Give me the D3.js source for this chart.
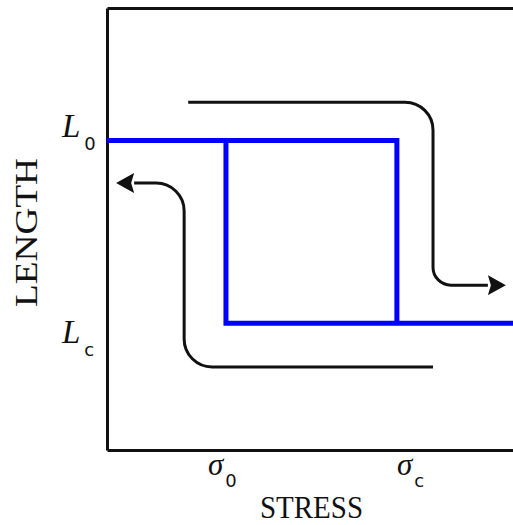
<!DOCTYPE html>
<html>
<head>
<meta charset="utf-8">
<script src="https://cdn.jsdelivr.net/npm/d3@7"></script>
<style>
  body { margin: 0; background: #fff; }
  .lbl { font-family: "Liberation Serif", "DejaVu Serif", serif; fill: #111; }
  .sub { font-family: "DejaVu Sans", "Liberation Sans", sans-serif; fill: #111; }
</style>
</head>
<body>
<div id="chart"></div>
<script>
// stress / length in arbitrary units (0..100 across the frame)
var stressDomain = [0, 100];
var lengthDomain = [0, 100];

var sigma0 = 29.3;
var sigmaC = 71.4;
var L0 = 70;
var Lc = 28.7;

// blue square loop: two branches
var loadStress = [0, sigmaC, sigmaC];
var loadLength = [L0, L0, Lc];
var unloadStress = [sigma0, sigma0, 100];
var unloadLength = [L0, Lc, Lc];

// black arrows (corner points, last one is the arrow tip)
var arrowDownStress = [20, 80.3, 80.3, 98];
var arrowDownLength = [78.7, 78.7, 37.3, 37.3];
var arrowUpStress = [80.3, 19, 19, 2.5];
var arrowUpLength = [18.8, 18.8, 60.4, 60.4];

var xTicks = [{v: sigma0, sub: "0"}, {v: sigmaC, sub: "c"}];
var yTicks = [{v: L0, sub: "0"}, {v: Lc, sub: "c"}];

var svgWidth = 513;
var svgHeight = 525;
var margin = {top: 8, right: 0, bottom: 75, left: 107};
var width = svgWidth - margin.left - margin.right;
var height = svgHeight - margin.top - margin.bottom;

var svg = d3.select("#chart").append("svg")
  .attr("width", svgWidth)
  .attr("height", svgHeight);

var g = svg.append("g")
  .attr("transform", `translate(${margin.left}, ${margin.top})`);

var x = d3.scaleLinear().domain(stressDomain).range([0, width]);
var y = d3.scaleLinear().domain(lengthDomain).range([height, 0]);

// frame (no ticks)
function frame(axis) {
  return axis.tickValues([]).tickSizeOuter(0);
}
var axB = g.append("g").attr("transform", `translate(0, ${height})`).call(frame(d3.axisBottom(x)));
var axL = g.append("g").call(frame(d3.axisLeft(y)));
var axT = g.append("g").call(frame(d3.axisTop(x)));
g.selectAll(".domain").attr("stroke", "#111").attr("stroke-width", 3);

// blue loop
var line = d3.line().x(d => x(d[0])).y(d => y(d[1]));
g.append("path")
  .datum(d3.zip(loadStress, loadLength))
  .attr("d", line)
  .attr("fill", "none").attr("stroke", "#0000ff").attr("stroke-width", 5)
  .attr("stroke-linejoin", "miter");
g.append("path")
  .datum(d3.zip(unloadStress, unloadLength))
  .attr("d", line)
  .attr("fill", "none").attr("stroke", "#0000ff").attr("stroke-width", 5)
  .attr("stroke-linejoin", "miter");

// arrowhead marker
svg.append("defs").append("marker")
  .attr("id", "head")
  .attr("viewBox", "0 -10 18 20")
  .attr("refX", 0).attr("refY", 0)
  .attr("markerWidth", 18).attr("markerHeight", 20)
  .attr("markerUnits", "userSpaceOnUse")
  .attr("orient", "auto")
  .append("path")
  .attr("d", "M0,-10L18,0L0,10L3,0Z")
  .attr("fill", "#111");

function roundedArrow(sx, sy, radii) {
  var pts = sx.map((s, i) => [x(s), y(sy[i])]);
  // pull the end back by the arrowhead length
  var n = pts.length;
  var a = pts[n - 2], b = pts[n - 1];
  var len = Math.hypot(b[0] - a[0], b[1] - a[1]);
  var end = [b[0] - (b[0] - a[0]) / len * 17, b[1] - (b[1] - a[1]) / len * 17];
  var p = d3.path();
  p.moveTo(pts[0][0], pts[0][1]);
  for (var i = 1; i < n - 1; i++) {
    p.arcTo(pts[i][0], pts[i][1], pts[i + 1][0], pts[i + 1][1], radii[i - 1]);
  }
  p.lineTo(end[0], end[1]);
  return p.toString();
}

g.append("path")
  .attr("d", roundedArrow(arrowDownStress, arrowDownLength, [28, 18]))
  .attr("fill", "none").attr("stroke", "#111").attr("stroke-width", 3)
  .attr("marker-end", "url(#head)");
g.append("path")
  .attr("d", roundedArrow(arrowUpStress, arrowUpLength, [28, 28]))
  .attr("fill", "none").attr("stroke", "#111").attr("stroke-width", 3)
  .attr("marker-end", "url(#head)");

// tick labels (symbol + subscript)
var xDx = {"0": -18, "c": 0};
xTicks.forEach(function(t) {
  var tx = g.append("text")
    .attr("class", "lbl")
    .attr("x", x(t.v) + xDx[t.sub])
    .attr("y", height + 25)
    .attr("font-size", 31)
    .attr("font-style", "italic")
    .text("σ");
  tx.append("tspan")
    .attr("class", "sub")
    .attr("font-style", "normal")
    .attr("font-size", 18)
    .attr("dx", 2)
    .attr("dy", 12)
    .text(t.sub);
});

var yDy = {"0": -4, "c": 20};
yTicks.forEach(function(t) {
  var ty = g.append("text")
    .attr("class", "lbl")
    .attr("x", -45)
    .attr("y", y(t.v) + yDy[t.sub])
    .attr("font-size", 33)
    .attr("font-style", "italic")
    .text("L");
  ty.append("tspan")
    .attr("class", "sub")
    .attr("font-style", "normal")
    .attr("font-size", 18)
    .attr("dx", 4)
    .attr("dy", 13)
    .text(t.sub);
});

// axis titles
svg.append("text")
  .attr("class", "lbl")
  .attr("x", 260)
  .attr("y", 518)
  .attr("font-size", 32)
  .attr("textLength", 103)
  .attr("lengthAdjust", "spacingAndGlyphs")
  .text("STRESS");

svg.append("text")
  .attr("class", "lbl")
  .attr("transform", "translate(37, 307) rotate(-90)")
  .attr("font-size", 32)
  .attr("textLength", 149)
  .attr("lengthAdjust", "spacingAndGlyphs")
  .text("LENGTH");
</script>
</body>
</html>
